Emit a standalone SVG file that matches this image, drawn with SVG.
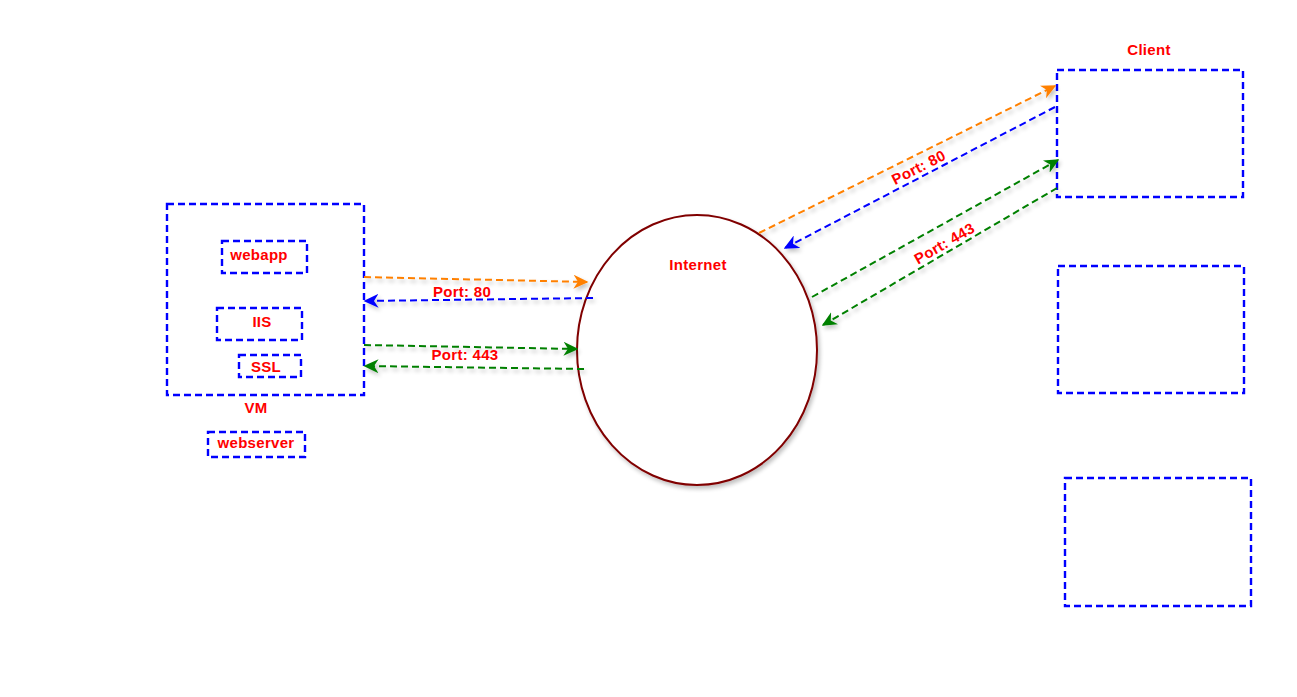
<svg xmlns="http://www.w3.org/2000/svg" width="1297" height="697" viewBox="0 0 1297 697">
<style>
.box{fill:none;stroke:#0000ff;stroke-width:2.4;stroke-dasharray:7,4}
.lbl{font-family:"Liberation Sans",Arial,sans-serif;font-weight:bold;font-size:15px;letter-spacing:0.3px;fill:#ff0000;text-anchor:middle}
.ln{fill:none;stroke-width:2;stroke-dasharray:7,4}
</style>
<defs>
<filter id="sh" x="-20%" y="-20%" width="140%" height="140%">
<feGaussianBlur in="SourceAlpha" stdDeviation="2"/>
<feOffset dx="2" dy="3" result="b"/>
<feComponentTransfer><feFuncA type="linear" slope="0.25"/></feComponentTransfer>
<feMerge><feMergeNode/><feMergeNode in="SourceGraphic"/></feMerge>
</filter>
<marker id="mo" viewBox="0 0 10 10" refX="9" refY="5" markerWidth="15" markerHeight="14" markerUnits="userSpaceOnUse" orient="auto" preserveAspectRatio="none"><path d="M0,0 L10,5 L0,10 L3,5 z" fill="#ff8000"/></marker>
<marker id="mb" viewBox="0 0 10 10" refX="9" refY="5" markerWidth="15" markerHeight="14" markerUnits="userSpaceOnUse" orient="auto" preserveAspectRatio="none"><path d="M0,0 L10,5 L0,10 L3,5 z" fill="#0000ff"/></marker>
<marker id="mg" viewBox="0 0 10 10" refX="9" refY="5" markerWidth="15" markerHeight="14" markerUnits="userSpaceOnUse" orient="auto" preserveAspectRatio="none"><path d="M0,0 L10,5 L0,10 L3,5 z" fill="#008000"/></marker>
</defs>
<rect width="1297" height="697" fill="#ffffff"/>
<g id="vm">
<rect class="box" x="167" y="204" width="197" height="191"/>
<text class="lbl" x="256" y="413">VM</text>
</g>
<g id="webapp"><rect class="box" x="222" y="241" width="85" height="32"/><text class="lbl" x="259" y="260">webapp</text></g>
<g id="iis"><rect class="box" x="217" y="308" width="85" height="32"/><text class="lbl" x="262" y="327">IIS</text></g>
<g id="ssl"><rect class="box" x="239" y="355" width="62" height="22"/><text class="lbl" x="266" y="372">SSL</text></g>
<g id="webserver"><rect class="box" x="208" y="432" width="97" height="25"/><text class="lbl" x="256" y="448">webserver</text></g>
<g id="internet"><ellipse cx="697" cy="350" rx="120" ry="135" fill="#ffffff" stroke="#800000" stroke-width="2" filter="url(#sh)"/><text class="lbl" x="698" y="270">Internet</text></g>
<g id="client"><rect class="box" x="1057" y="70" width="186" height="127"/><text class="lbl" x="1149" y="55">Client</text></g>
<g id="box2"><rect class="box" x="1058" y="266" width="186" height="127"/></g>
<g id="box3"><rect class="box" x="1065" y="478" width="186" height="128"/></g>
<g id="connectors" filter="url(#sh)">
<line class="ln" x1="364" y1="277" x2="587" y2="282" stroke="#ff8000" marker-end="url(#mo)"/>
<line class="ln" x1="593" y1="298" x2="365" y2="301" stroke="#0000ff" marker-end="url(#mb)"/>
<line class="ln" x1="364" y1="345" x2="577" y2="349" stroke="#008000" marker-end="url(#mg)"/>
<line class="ln" x1="584" y1="369" x2="365" y2="366" stroke="#008000" marker-end="url(#mg)"/>
<line class="ln" x1="759" y1="233" x2="1055" y2="86" stroke="#ff8000" marker-end="url(#mo)"/>
<line class="ln" x1="1055" y1="107" x2="785" y2="248" stroke="#0000ff" marker-end="url(#mb)"/>
<line class="ln" x1="812" y1="297" x2="1058" y2="160" stroke="#008000" marker-end="url(#mg)"/>
<line class="ln" x1="1057" y1="188" x2="823" y2="325" stroke="#008000" marker-end="url(#mg)"/>
</g>
<g id="labels">
<text class="lbl" x="462" y="297">Port: 80</text>
<text class="lbl" x="465" y="360">Port: 443</text>
<text class="lbl" transform="translate(921,172) rotate(-27)">Port: 80</text>
<text class="lbl" transform="translate(947,248) rotate(-30)">Port: 443</text>
</g>
</svg>
